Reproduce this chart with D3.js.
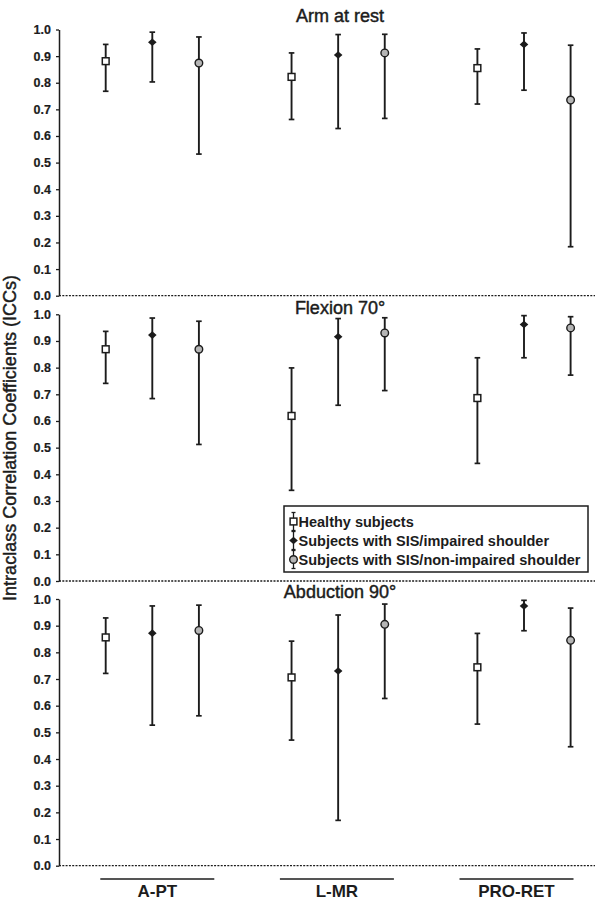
<!DOCTYPE html>
<html>
<head>
<meta charset="utf-8">
<script src="https://cdn.jsdelivr.net/npm/d3@7"></script>
<style>
  body { margin: 0; background: #fff; }
  svg { display: block; font-family: "Liberation Sans", Arial, sans-serif; }
</style>
</head>
<body>
<div id="chart"></div>
<script>
// 数据 — ICC 点估计和置信区间（行 = 类别，列 = 组别）
const categories = ["A-PT", "L-MR", "PRO-RET"];
const seriesNames = ["Healthy subjects", "Subjects with SIS/impaired shoulder", "Subjects with SIS/non-impaired shoulder"];
const panelTitles = ["Arm at rest", "Flexion 70°", "Abduction 90°"];
const yTicks = [0, 0.1, 0.2, 0.3, 0.4, 0.5, 0.6, 0.7, 0.8, 0.9, 1.0];

const restICC  = [[0.881, 0.952, 0.874], [0.822, 0.904, 0.912], [0.855, 0.944, 0.735]];
const restLow  = [[0.768, 0.803, 0.532], [0.662, 0.628, 0.666], [0.720, 0.772, 0.184]];
const restHigh = [[0.944, 0.990, 0.972], [0.912, 0.981, 0.982], [0.927, 0.987, 0.941]];

const flexICC  = [[0.869, 0.922, 0.869], [0.619, 0.916, 0.930], [0.686, 0.962, 0.949]];
const flexLow  = [[0.741, 0.684, 0.512], [0.340, 0.659, 0.714], [0.441, 0.837, 0.772]];
const flexHigh = [[0.936, 0.986, 0.974], [0.799, 0.984, 0.987], [0.837, 0.995, 0.991]];

const abdICC   = [[0.856, 0.872, 0.882], [0.706, 0.730, 0.905], [0.744, 0.974, 0.845]];
const abdLow   = [[0.721, 0.527, 0.562], [0.471, 0.170, 0.627], [0.531, 0.881, 0.446]];
const abdHigh  = [[0.929, 0.974, 0.977], [0.842, 0.940, 0.981], [0.871, 0.995, 0.966]];

const panelValues = [
    { icc: restICC, low: restLow, high: restHigh },
    { icc: flexICC, low: flexLow, high: flexHigh },
    { icc: abdICC, low: abdLow, high: abdHigh }
];

// 布局
const width = 600, height = 911;
const axisX = 59, rightX = 595;
const panelLayout = [
    { top: 29.5, bottom: 295.7, titleY: 22 },
    { top: 314.3, bottom: 581, titleY: 314 },
    { top: 599, bottom: 865.7, titleY: 598 }
];
const ink = "#1c1c1c";

const svg = d3.select("#chart").append("svg")
    .attr("width", width)
    .attr("height", height);

// 组内和组间的x位置
const xGroup = d3.scalePoint().domain(categories).range([152.3, 524]);
const xOffset = d3.scalePoint().domain(seriesNames).range([-46.6, 46.6]);
const xLabel = d3.scalePoint().domain(categories).range([157.3, 516.5]);

// 标记形状
function drawMarker(g, seriesIdx) {
    if (seriesIdx === 0) {
        g.append("rect")
            .attr("x", -3.4).attr("y", -3.4)
            .attr("width", 6.8).attr("height", 6.8)
            .attr("fill", "#fff")
            .attr("stroke", ink)
            .attr("stroke-width", 1.5);
    } else if (seriesIdx === 1) {
        g.append("path")
            .attr("d", "M-4.3,0L0,-3.8L4.3,0L0,3.8Z")
            .attr("fill", ink);
    } else {
        g.append("circle")
            .attr("r", 3.8)
            .attr("fill", "#b5b5b5")
            .attr("stroke", ink)
            .attr("stroke-width", 1.4);
    }
}

panelValues.forEach((pv, p) => {
    const lay = panelLayout[p];
    const y = d3.scaleLinear().domain([0, 1]).range([lay.bottom, lay.top]);
    const panel = svg.append("g").attr("class", "panel");

    // 零线（虚线）
    panel.append("line")
        .attr("x1", axisX).attr("x2", rightX)
        .attr("y1", y(0)).attr("y2", y(0))
        .attr("stroke", ink)
        .attr("stroke-width", 1.3)
        .attr("stroke-dasharray", "2,1.3");

    // y轴
    const axis = panel.append("g")
        .attr("transform", `translate(${axisX},0)`)
        .call(d3.axisLeft(y).tickValues(yTicks).tickFormat(d3.format(".1f"))
            .tickSize(3).tickSizeOuter(0).tickPadding(5));
    axis.select(".domain").attr("stroke", ink).attr("stroke-width", 1.5);
    axis.selectAll(".tick line").attr("stroke", ink).attr("stroke-width", 1.3);
    axis.selectAll(".tick text")
        .attr("fill", ink)
        .attr("font-size", "12.5px")
        .attr("font-weight", "bold")
        .attr("stroke", ink)
        .attr("stroke-width", 0.2)
        .attr("font-family", "'Liberation Sans', Arial, sans-serif");

    // 标题
    panel.append("text")
        .attr("x", 340).attr("y", lay.titleY)
        .attr("text-anchor", "middle")
        .attr("font-size", "18px")
        .attr("fill", ink)
        .attr("stroke", ink)
        .attr("stroke-width", 0.45)
        .text(panelTitles[p]);

    // 误差线和点
    categories.forEach((cat, c) => {
        seriesNames.forEach((s, k) => {
            const cx = xGroup(cat) + xOffset(s);
            const lo = y(pv.low[c][k]);
            const hi = y(pv.high[c][k]);
            const g = panel.append("g");
            g.append("line")
                .attr("x1", cx).attr("x2", cx)
                .attr("y1", lo).attr("y2", hi)
                .attr("stroke", ink).attr("stroke-width", 1.9);
            [lo, hi].forEach(yy => {
                g.append("line")
                    .attr("x1", cx - 2.8).attr("x2", cx + 2.8)
                    .attr("y1", yy).attr("y2", yy)
                    .attr("stroke", ink).attr("stroke-width", 1.7);
            });
            const m = g.append("g").attr("transform", `translate(${cx},${y(pv.icc[c][k])})`);
            drawMarker(m, k);
        });
    });
});

// 底部类别标签
const catG = svg.append("g");
categories.forEach(cat => {
    const cx = xLabel(cat);
    catG.append("line")
        .attr("x1", cx - 57).attr("x2", cx + 57)
        .attr("y1", 879).attr("y2", 879)
        .attr("stroke", ink).attr("stroke-width", 1.4);
    catG.append("text")
        .attr("x", cx).attr("y", 897)
        .attr("text-anchor", "middle")
        .attr("font-size", "17px")
        .attr("font-weight", "bold")
        .attr("fill", ink)
        .text(cat);
});

// y轴标题
svg.append("text")
    .attr("transform", "translate(16,438) rotate(-90)")
    .attr("text-anchor", "middle")
    .attr("font-size", "18px")
    .attr("fill", ink)
    .attr("stroke", ink)
    .attr("stroke-width", 0.45)
    .text("Intraclass Correlation Coefficients (ICCs)");

// 图例
const legend = svg.append("g");
legend.append("rect")
    .attr("x", 284).attr("y", 506)
    .attr("width", 304).attr("height", 66)
    .attr("fill", "#fff")
    .attr("stroke", ink)
    .attr("stroke-width", 1.5);
seriesNames.forEach((s, k) => {
    const cy = 521.5 + k * 19;
    const sx = 293.5;
    const item = legend.append("g");
    item.append("line")
        .attr("x1", sx).attr("x2", sx)
        .attr("y1", cy - 9).attr("y2", cy + 9)
        .attr("stroke", ink).attr("stroke-width", 1.3);
    [cy - 9, cy + 9].forEach(yy => {
        item.append("line")
            .attr("x1", sx - 2).attr("x2", sx + 2)
            .attr("y1", yy).attr("y2", yy)
            .attr("stroke", ink).attr("stroke-width", 1.3);
    });
    drawMarker(item.append("g").attr("transform", `translate(${sx},${cy})`), k);
    item.append("text")
        .attr("x", 298.5).attr("y", cy + 5.2)
        .attr("font-size", "14.5px")
        .attr("font-weight", "bold")
        .attr("fill", ink)
        .text(s);
});
</script>
</body>
</html>
